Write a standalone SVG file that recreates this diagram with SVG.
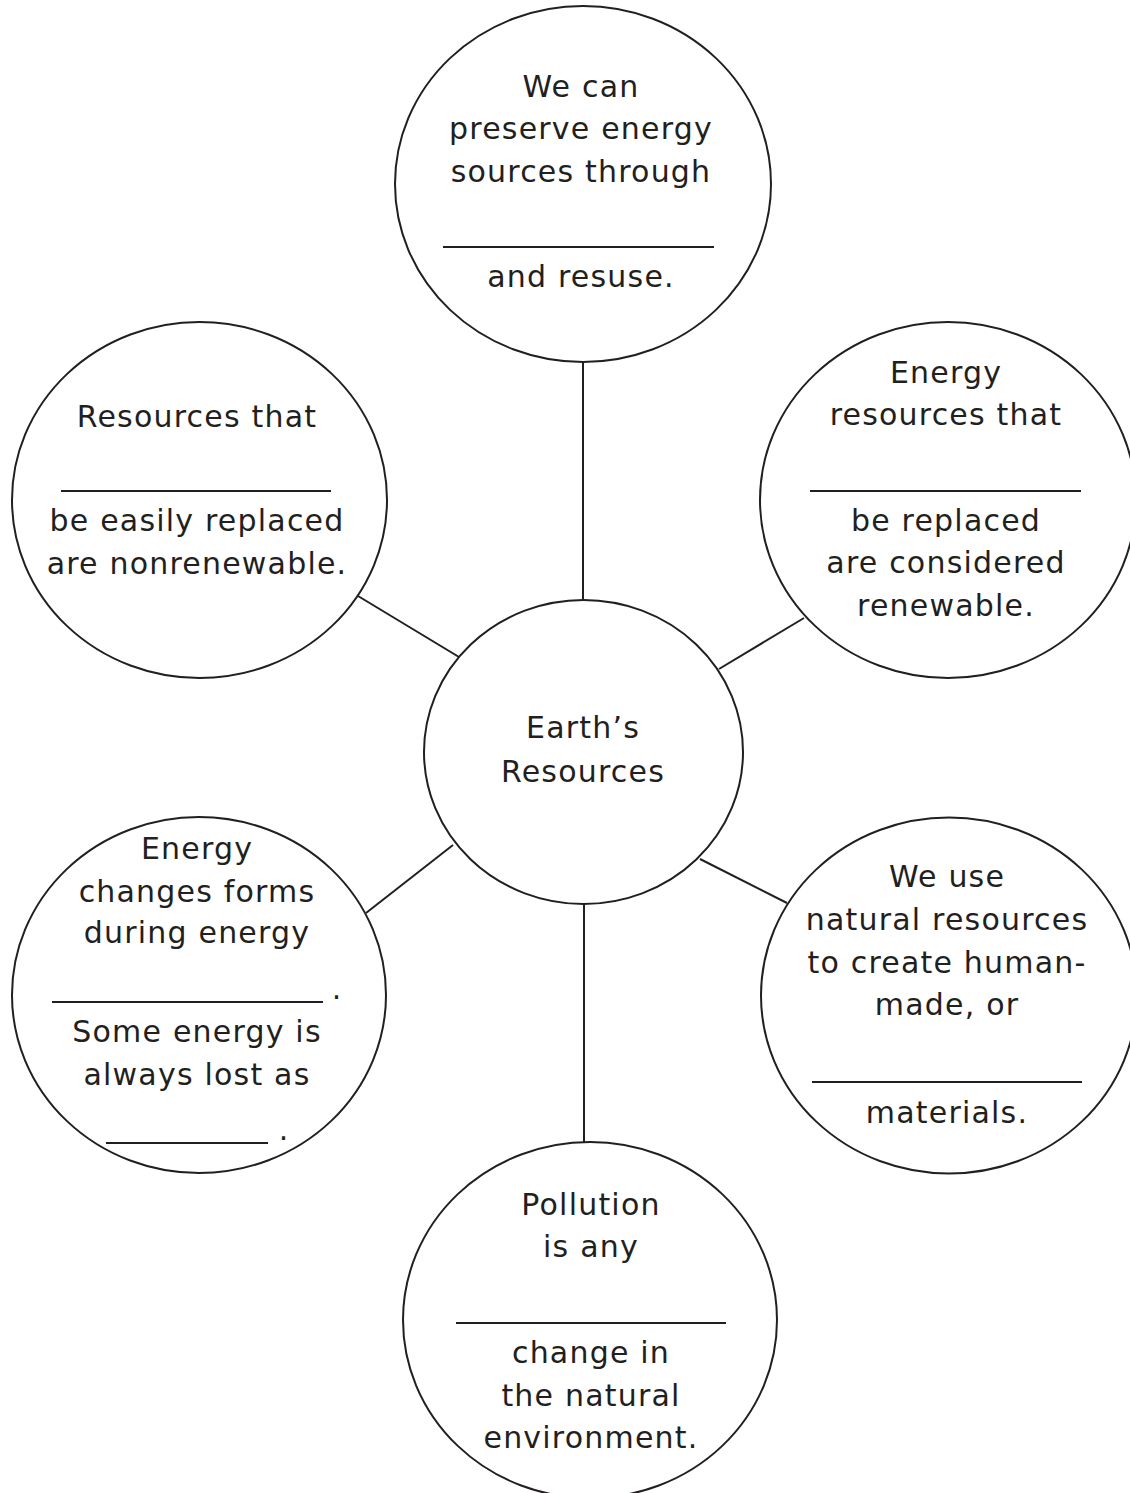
<svg xmlns="http://www.w3.org/2000/svg" width="1130" height="1493" viewBox="0 0 1130 1493">
<style>
.n{fill:#fff;stroke:#231f20;stroke-width:2}
.c{stroke:#231f20;stroke-width:2;fill:none}
.b{stroke:#231f20;stroke-width:1.8}
text{font-family:"DejaVu Sans","Liberation Sans",sans-serif;font-size:30px;fill:#231f20;text-anchor:middle;letter-spacing:1.2px}
</style>
<rect width="1130" height="1493" fill="#fff"/>
<g id="connectors">
<line class="c" x1="583" y1="362" x2="583" y2="600"/>
<line class="c" x1="358" y1="596" x2="459" y2="657"/>
<line class="c" x1="719" y1="669" x2="804" y2="618"/>
<line class="c" x1="366" y1="913" x2="453" y2="845"/>
<line class="c" x1="700" y1="859" x2="787" y2="903"/>
<line class="c" x1="584" y1="904" x2="584" y2="1142"/>
</g>
<g id="top">
<ellipse class="n" cx="583" cy="184" rx="188" ry="178"/>
<text x="581" y="97">We can</text>
<text x="581" y="139">preserve energy</text>
<text x="581" y="182">sources through</text>
<line class="b" x1="443" y1="247" x2="714" y2="247"/>
<text x="581" y="287">and resuse.</text>
</g>
<g id="left">
<ellipse class="n" cx="199.5" cy="500" rx="187.5" ry="178"/>
<text x="197" y="427">Resources that</text>
<line class="b" x1="61" y1="491" x2="331" y2="491"/>
<text x="197" y="531">be easily replaced</text>
<text x="197" y="574">are nonrenewable.</text>
</g>
<g id="right">
<ellipse class="n" cx="948" cy="500" rx="188" ry="178"/>
<text x="946" y="383">Energy</text>
<text x="946" y="425">resources that</text>
<line class="b" x1="810" y1="491" x2="1081" y2="491"/>
<text x="946" y="531">be replaced</text>
<text x="946" y="573">are considered</text>
<text x="946" y="616">renewable.</text>
</g>
<g id="center">
<ellipse class="n" cx="583.5" cy="752" rx="159.5" ry="152"/>
<text x="583" y="738">Earth’s</text>
<text x="583" y="782">Resources</text>
</g>
<g id="bottom-left">
<ellipse class="n" cx="199" cy="995" rx="187" ry="178"/>
<text x="197" y="859">Energy</text>
<text x="197" y="902">changes forms</text>
<text x="197" y="943">during energy</text>
<line class="b" x1="52" y1="1002" x2="323" y2="1002"/>
<text x="337" y="999">.</text>
<text x="197" y="1042">Some energy is</text>
<text x="197" y="1085">always lost as</text>
<line class="b" x1="106" y1="1143" x2="268" y2="1143"/>
<text x="284" y="1140">.</text>
</g>
<g id="bottom-right">
<ellipse class="n" cx="949" cy="995.5" rx="188" ry="178"/>
<text x="947" y="887">We use</text>
<text x="947" y="930">natural resources</text>
<text x="947" y="973">to create human-</text>
<text x="947" y="1015">made, or</text>
<line class="b" x1="812" y1="1082" x2="1082" y2="1082"/>
<text x="947" y="1123">materials.</text>
</g>
<g id="bottom">
<ellipse class="n" cx="590" cy="1320" rx="187" ry="178"/>
<text x="591" y="1215">Pollution</text>
<text x="591" y="1257">is any</text>
<line class="b" x1="456" y1="1323" x2="726" y2="1323"/>
<text x="591" y="1363">change in</text>
<text x="591" y="1406">the natural</text>
<text x="591" y="1448">environment.</text>
</g>
</svg>
